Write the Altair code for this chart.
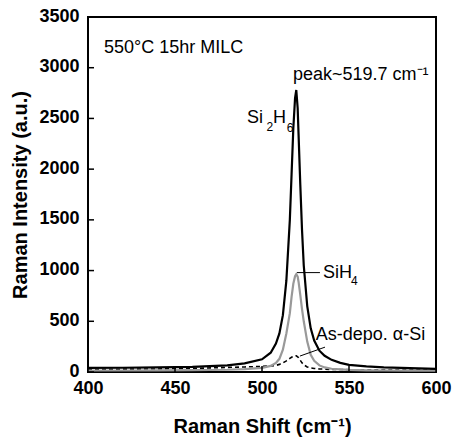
import altair as alt
import pandas as pd

shift = [400, 420, 440, 460, 480, 490, 500, 505, 508, 510, 512, 514, 516, 517, 518, 519,
         519.7, 520.5, 521, 522, 523, 524, 526, 528, 530, 533, 536, 540, 545, 550, 560, 570, 585, 600]
si2h6 = [40, 42, 45, 50, 65, 85, 125, 190, 280, 380, 560, 900, 1500, 1950, 2400, 2700,
         2780, 2600, 2350, 1850, 1400, 1050, 650, 430, 310, 210, 160, 120, 90, 70, 55, 45, 38, 30]
sih4 = [15, 15, 16, 18, 22, 28, 40, 60, 90, 130, 220, 380, 580, 740, 870, 945,
        965, 940, 890, 760, 620, 500, 300, 170, 110, 65, 45, 32, 25, 20, 17, 15, 14, 13]
asdepo = [25, 28, 30, 35, 45, 50, 55, 60, 65, 75, 90, 110, 135, 145, 155, 160,
          160, 150, 140, 115, 90, 70, 50, 40, 35, 30, 28, 25, 25, 22, 20, 20, 18, 18]

x_ticks = [400, 450, 500, 550, 600]
y_ticks = [0, 500, 1000, 1500, 2000, 2500, 3000, 3500]

df = pd.DataFrame({"shift": shift, "si2h6": si2h6, "sih4": sih4, "asdepo": asdepo})

FONT = "Liberation Sans"
xs = alt.Scale(domain=[400, 600], nice=False, zero=False)
ys = alt.Scale(domain=[0, 3500], nice=False)

xenc = alt.X("shift:Q", scale=xs, title="Raman Shift (cm⁻¹)",
             axis=alt.Axis(values=x_ticks, ticks=False, domain=False, grid=False,
                           labelFlush=False, labelOverlap=False, format="d",
                           labelFont=FONT, labelFontSize=18, labelFontWeight="bold",
                           labelPadding=7, labelColor="black",
                           titleFont=FONT, titleFontSize=20, titleFontWeight="bold",
                           titlePadding=19, titleColor="black"))

def yenc(field):
    return alt.Y(field, scale=ys, title="Raman Intensity (a.u.)",
                 axis=alt.Axis(values=y_ticks, ticks=False, domain=False, grid=False,
                               labelFlush=False, labelOverlap=False, format="d",
                               labelFont=FONT, labelFontSize=18, labelFontWeight="bold",
                               labelPadding=9, labelColor="black", labelOffset=-1,
                               titleFont=FONT, titleFontSize=20, titleFontWeight="bold",
                               titlePadding=8, titleColor="black"))

base = alt.Chart(df)
l_asdepo = base.mark_line(color="black", strokeWidth=1.6, strokeDash=[4, 3]).encode(x=xenc, y=yenc("asdepo:Q"))
l_sih4 = base.mark_line(color="#999999", strokeWidth=2.2).encode(x=xenc, y=yenc("sih4:Q"))
l_si2h6 = base.mark_line(color="black", strokeWidth=2.2).encode(x=xenc, y=yenc("si2h6:Q"))

# inward ticks
ytk = alt.Chart(pd.DataFrame({"v": y_ticks})).mark_rule(color="black", strokeWidth=1.5).encode(
    y=alt.Y("v:Q", scale=ys), x=alt.value(0), x2=alt.value(6))
xtk = alt.Chart(pd.DataFrame({"v": x_ticks})).mark_rule(color="black", strokeWidth=1.5).encode(
    x=alt.X("v:Q", scale=xs), y=alt.value(355), y2=alt.value(349))

# annotations (main text and subscripts)
ann = pd.DataFrame({
    "x": [409.2, 517.8, 491.4, 506.3, 535.0, 530.9],
    "y": [3150, 2882, 2451, 2451, 928, 317],
    "t": ["550°C 15hr MILC", "peak~519.7 cm⁻¹", "Si", "H", "SiH", "As-depo. α-Si"],
})
texts = alt.Chart(ann).mark_text(align="left", baseline="alphabetic", font=FONT,
                                 fontSize=18, color="black").encode(
    x=alt.X("x:Q", scale=xs), y=alt.Y("y:Q", scale=ys), text="t:N")

subs = pd.DataFrame({
    "x": [502.6, 514.2, 551.2],
    "y": [2373, 2363, 862],
    "t": ["2", "6", "4"],
})
subtexts = alt.Chart(subs).mark_text(align="left", baseline="alphabetic", font=FONT,
                                     fontSize=12, color="black").encode(
    x=alt.X("x:Q", scale=xs), y=alt.Y("y:Q", scale=ys), text="t:N")

leaders = pd.DataFrame({"x": [520.1, 521.8], "x2": [533.3, 536.2], "y": [980, 157], "y2": [980, 245]})
lead = alt.Chart(leaders).mark_rule(color="black", strokeWidth=1).encode(
    x=alt.X("x:Q", scale=xs), x2="x2:Q", y=alt.Y("y:Q", scale=ys), y2="y2:Q")

chart = alt.layer(l_asdepo, l_sih4, l_si2h6, ytk, xtk, lead, texts, subtexts).properties(
    width=348, height=355,
    autosize=alt.AutoSizeParams(type="none"),
    padding={"left": 88, "top": 17, "right": 18, "bottom": 67},
    background="white",
).configure_view(stroke="black", strokeWidth=2)

chart.save("out.html", embed_options={"renderer": "svg", "actions": False})
